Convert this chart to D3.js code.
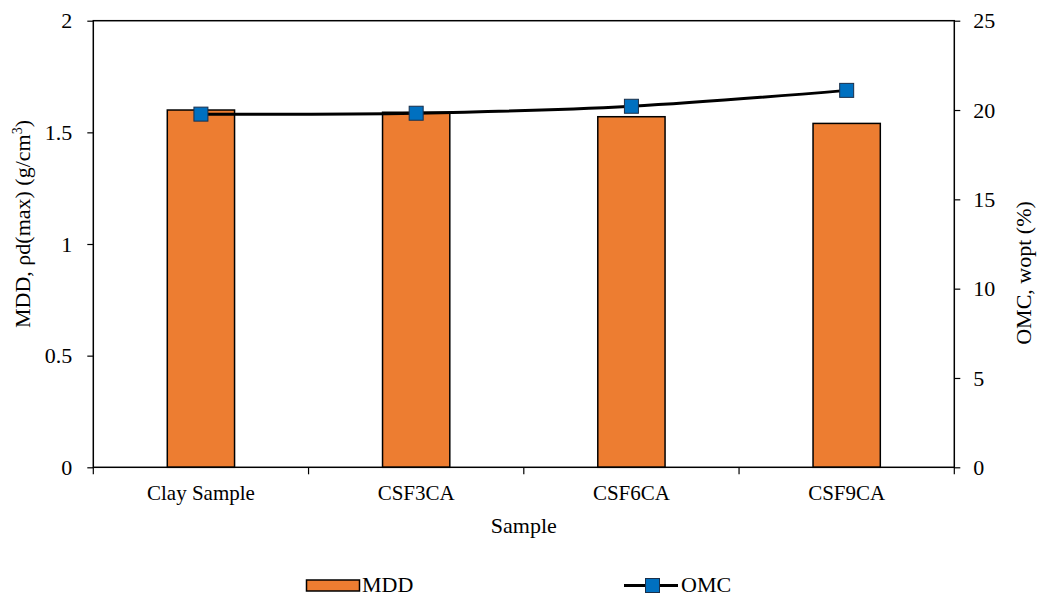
<!DOCTYPE html>
<html>
<head>
<meta charset="utf-8">
<script src="https://cdn.jsdelivr.net/npm/d3@7"></script>
<style>
  body { margin: 0; background: #fff; }
  svg text { font-family: "Liberation Serif", "Times New Roman", Tinos, serif !important; fill: #000; }
</style>
</head>
<body>
<div id="chart"></div>
<script>
// ----- DATA ------------------------//
const samples = ["Clay Sample", "CSF3CA", "CSF6CA", "CSF9CA"];
const mdd = [1.60, 1.59, 1.57, 1.54];          // g/cm3, left axis
const omc = [19.77, 19.82, 20.21, 21.1];       // %, right axis
const mddTicks = [0, 0.5, 1, 1.5, 2];
const omcTicks = [0, 5, 10, 15, 20, 25];

const width = 1038;
const height = 596;
const margin = { top: 20.7, right: 83.7, bottom: 128.7, left: 93.3 };
const innerW = width - margin.left - margin.right;
const innerH = height - margin.top - margin.bottom;
const serif = "'Liberation Serif', 'Times New Roman', serif";

const svg = d3.select("#chart").append("svg")
    .attr("width", width)
    .attr("height", height)
    .attr("font-family", serif);

svg.append("rect").attr("width", width).attr("height", height).attr("fill", "#fff");

const g = svg.append("g")
    .attr("transform", "translate(" + margin.left + "," + margin.top + ")");

// scales
const xScl = d3.scaleBand().domain(samples).range([0, innerW]).padding(0);
const yLeft = d3.scaleLinear().domain([0, 2]).range([innerH, 0]);
const yRight = d3.scaleLinear().domain([0, 25]).range([innerH, 0]);
const barW = xScl.bandwidth() / 3.2;

// bars
g.selectAll("rect.bar")
    .data(samples)
    .enter()
    .append("rect")
    .attr("class", "bar")
    .attr("x", d => xScl(d) + xScl.bandwidth() / 2 - barW / 2)
    .attr("y", (d, i) => yLeft(mdd[i]))
    .attr("width", barW)
    .attr("height", (d, i) => innerH - yLeft(mdd[i]))
    .attr("fill", "#ED7D31")
    .attr("stroke", "#000")
    .attr("stroke-width", 1.5);

// plot border
g.append("rect")
    .attr("width", innerW)
    .attr("height", innerH)
    .attr("fill", "none")
    .attr("stroke", "#000")
    .attr("stroke-width", 1.5);

// left axis
const yAxisL = d3.axisLeft(yLeft).tickValues(mddTicks).tickSize(6).tickPadding(15).tickFormat(d3.format("~g"));
const gl = g.append("g").call(yAxisL).attr("font-family", serif);
gl.select(".domain").remove();
gl.selectAll("line").attr("stroke", "#000").attr("stroke-width", 1.2);
gl.selectAll("text").style("font-size", "22px").attr("fill", "#000").attr("dy", "0.33em");

// right axis
const yAxisR = d3.axisRight(yRight).tickValues(omcTicks).tickSize(6).tickPadding(13);
const gr = g.append("g").attr("transform", "translate(" + innerW + ",0)").call(yAxisR).attr("font-family", serif);
gr.select(".domain").remove();
gr.selectAll("line").attr("stroke", "#000").attr("stroke-width", 1.2);
gr.selectAll("text").style("font-size", "22px").attr("fill", "#000").attr("dy", "0.33em");

// bottom axis: labels centred, ticks on category boundaries
const xAxis = d3.axisBottom(xScl).tickSize(0).tickPadding(18);
const gx = g.append("g").attr("transform", "translate(0," + innerH + ")").call(xAxis).attr("font-family", serif);
gx.select(".domain").remove();
gx.selectAll("text").style("font-size", "21px").attr("fill", "#000");
const bounds = samples.map(d => xScl(d)).concat([innerW]);
gx.selectAll("line.bound")
    .data(bounds)
    .enter()
    .append("line")
    .attr("class", "bound")
    .attr("x1", d => d).attr("x2", d => d)
    .attr("y1", 0).attr("y2", 7)
    .attr("stroke", "#000")
    .attr("stroke-width", 1.2);

// OMC line
const line = d3.line()
    .x(d => xScl(d.s) + xScl.bandwidth() / 2)
    .y(d => yRight(d.v))
    .curve(d3.curveCatmullRom.alpha(0.5));
const omcData = samples.map((s, i) => ({ s: s, v: omc[i] }));

g.append("path")
    .datum(omcData)
    .attr("d", line)
    .attr("fill", "none")
    .attr("stroke", "#000")
    .attr("stroke-width", 3);

g.selectAll("rect.marker")
    .data(omcData)
    .enter()
    .append("rect")
    .attr("class", "marker")
    .attr("x", d => xScl(d.s) + xScl.bandwidth() / 2 - 7)
    .attr("y", d => yRight(d.v) - 7)
    .attr("width", 14)
    .attr("height", 14)
    .attr("fill", "#0070C0")
    .attr("stroke", "#1a2f4a")
    .attr("stroke-width", 1);

// axis titles
svg.append("text")
    .attr("x", margin.left + innerW / 2)
    .attr("y", 533)
    .attr("text-anchor", "middle")
    .style("font-size", "22px")
    .text("Sample");

const tl = svg.append("text")
    .attr("transform", "translate(30,224) rotate(-90)")
    .attr("text-anchor", "middle")
    .style("font-size", "22px");
tl.append("tspan").text("MDD, \u03c1d(max) (g/cm");
tl.append("tspan").attr("dy", -8).style("font-size", "14px").text("3");
tl.append("tspan").attr("dy", 8).text(")");

svg.append("text")
    .attr("transform", "translate(1031,273) rotate(-90)")
    .attr("text-anchor", "middle")
    .style("font-size", "22px")
    .text("OMC, wopt (%)");

// legend
const leg = svg.append("g");
leg.append("rect")
    .attr("x", 306.5).attr("y", 580)
    .attr("width", 53).attr("height", 11)
    .attr("fill", "#ED7D31")
    .attr("stroke", "#000")
    .attr("stroke-width", 1.5);
leg.append("text").attr("x", 362).attr("y", 592).style("font-size", "22px").text("MDD");

leg.append("line")
    .attr("x1", 624).attr("x2", 678)
    .attr("y1", 585.5).attr("y2", 585.5)
    .attr("stroke", "#000").attr("stroke-width", 3);
leg.append("rect")
    .attr("x", 645.5).attr("y", 578.5)
    .attr("width", 14).attr("height", 14)
    .attr("fill", "#0070C0")
    .attr("stroke", "#1a2f4a")
    .attr("stroke-width", 1);
leg.append("text").attr("x", 681).attr("y", 592).style("font-size", "22px").text("OMC");
</script>
</body>
</html>
